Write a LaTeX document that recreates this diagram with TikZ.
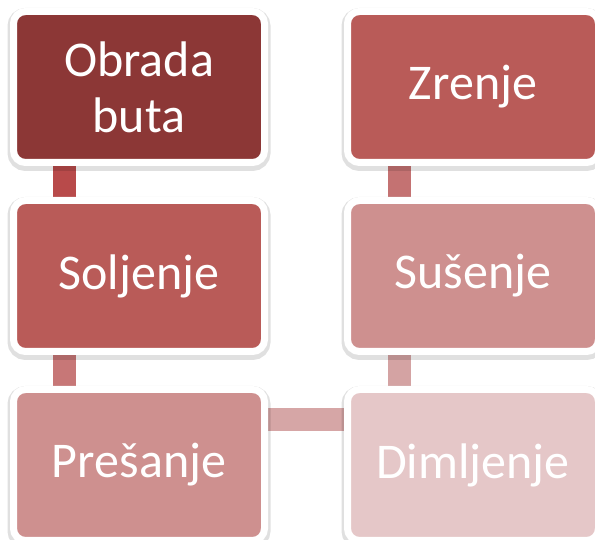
\documentclass[tikz,border=0pt]{standalone}
\usepackage{fontspec}
\setmainfont{Carlito}
\usetikzlibrary{shadows,backgrounds}
\definecolor{bA}{HTML}{8C3736}
\definecolor{bB}{HTML}{B95B58}
\definecolor{bC}{HTML}{CE908F}
\definecolor{bD}{HTML}{E5C7C8}
\definecolor{cA}{HTML}{B84A4A}
\definecolor{cB}{HTML}{C77777}
\definecolor{cC}{HTML}{D6A6A6}
\definecolor{cD}{HTML}{D4A3A3}
\definecolor{cE}{HTML}{C47272}
\tikzset{
  stepbox/.style={rectangle, rounded corners=12pt, draw=white, line width=7pt,
    minimum width=251pt, minimum height=151pt, inner sep=0pt,
    text=white, align=center, font=\fontsize{50}{56}\selectfont,
    drop shadow={shadow xshift=0pt, shadow yshift=-2.5pt, opacity=0.12, fill=black, draw=black, line width=12pt}},
  bar/.style={line width=23pt}
}
\begin{document}
\begin{tikzpicture}[x=1pt,y=1pt]
\useasboundingbox (0,0) rectangle (595,540);
\node[stepbox, fill=bA] (obr) at (139,453) {Obrada\\buta};
\node[stepbox, fill=bB] (sol) at (139,264) {Soljenje};
\node[stepbox, fill=bC] (pre) at (139,75) {Prešanje};
\node[stepbox, fill=bD] (dim) at (473,75) {Dimljenje};
\node[stepbox, fill=bC] (sus) at (473,264) {Sušenje};
\node[stepbox, fill=bB] (zre) at (473,453) {Zrenje};
\begin{scope}[on background layer]
\draw[bar, cA] ([xshift=-75pt]obr.south) -- ([xshift=-75pt]sol.north);
\draw[bar, cB] ([xshift=-75pt]sol.south) -- ([xshift=-75pt]pre.north);
\draw[bar, cC] ([yshift=-34pt]pre.north east) -- ([yshift=-34pt]dim.north west);
\draw[bar, cD] ([xshift=-74pt]dim.north) -- ([xshift=-74pt]sus.south);
\draw[bar, cE] ([xshift=-74pt]sus.north) -- ([xshift=-74pt]zre.south);
\end{scope}
\end{tikzpicture}
\end{document}
